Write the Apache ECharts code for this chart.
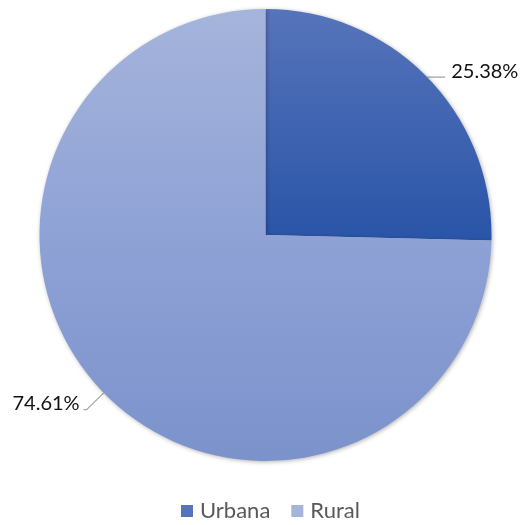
<!DOCTYPE html>
<html><head><meta charset="utf-8">
<script src="https://cdn.jsdelivr.net/npm/echarts@6/dist/echarts.min.js"></script>
<style>html,body{margin:0;padding:0;background:#fff}#c{width:523px;height:525px}</style>
</head><body><div id="c"></div>
<script>
const categories = ['Urbana', 'Rural'];
const values = [25.38, 74.61];

const chart = echarts.init(document.getElementById('c'), null, {renderer: 'canvas'});
const grads = [
  new echarts.graphic.LinearGradient(0, 9, 0, 235, [{offset: 0, color: '#5674ba'}, {offset: 1, color: '#2b55a8'}], true),
  new echarts.graphic.LinearGradient(0, 9, 0, 461, [{offset: 0, color: '#a5b4db'}, {offset: 0.5, color: '#8fa2d6'}, {offset: 1, color: '#7b92cb'}], true)
];
const legendColors = ['#3a60b0', '#94a7d8'];
const lineLens = [[0, 18, 6], [24, 3, 4]];
chart.setOption({
  animation: false,
  color: legendColors,
  legend: {
    top: 495, left: 176, icon: 'rect', itemWidth: 12, itemHeight: 12, itemGap: 21,
    textStyle: {fontFamily: 'Lato', fontSize: 22, color: '#595959', padding: [0, 0, 0, 2]},
    data: categories
  },
  series: [{
    type: 'pie',
    center: [265.5, 235],
    radius: 226,
    startAngle: 90,
    clockwise: true,
    data: categories.map((n, i) => ({
      name: n, value: values[i], itemStyle: {color: grads[i]},
      labelLine: {length: lineLens[i][0], length2: lineLens[i][1]},
      label: {distanceToLabelLine: lineLens[i][2]}
    })),
    itemStyle: {shadowBlur: 4, shadowColor: 'rgba(0,0,0,0.3)', shadowOffsetX: 1, shadowOffsetY: 1},
    label: {
      show: true, position: 'outside', overflow: 'none', edgeDistance: 0, bleedMargin: 0,
      formatter: p => '{t|' + p.value.toFixed(2) + '%}\n{s|}',
      rich: {
        t: {fontFamily: 'Lato', fontSize: 20, color: '#111', lineHeight: 24},
        s: {fontSize: 1, lineHeight: 12}
      }
    },
    labelLine: {show: true, lineStyle: {color: '#a6a6a6', width: 1.3}}
  }]
});
</script></body></html>
